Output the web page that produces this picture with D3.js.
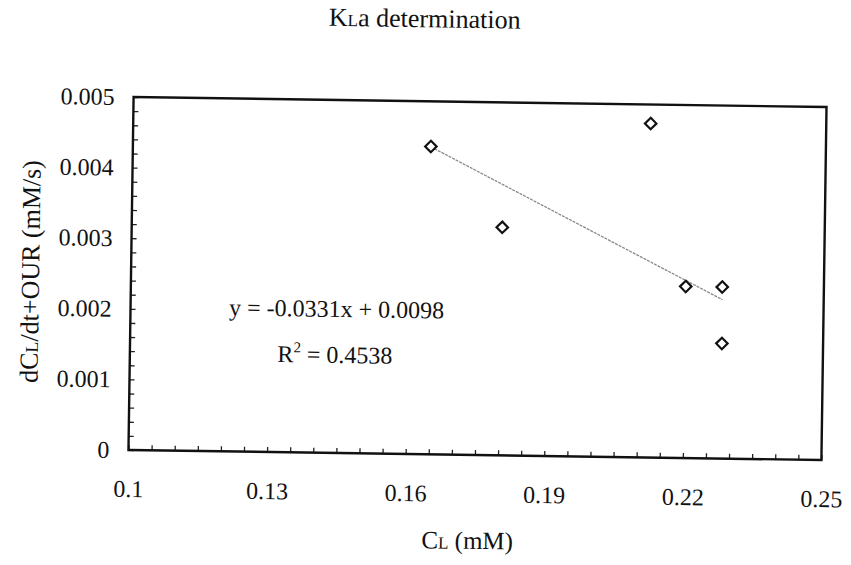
<!DOCTYPE html>
<html lang="en">
<head>
  <meta charset="UTF-8">
  <title>KLa determination</title>
  <script src="https://cdn.jsdelivr.net/npm/d3@7/dist/d3.min.js"></script>
  <style>
    body { margin: 0; background: #fff; }
    svg text { font-family: 'Liberation Serif', 'Times New Roman', Times, 'DejaVu Serif', serif !important; fill: #111; }
  </style>
</head>
<body>
  <svg class="svg"></svg>
  <script>
    // measured points
    const cl = [0.1645, 0.1802, 0.2120, 0.2201, 0.2280, 0.2281];
    const rate = [0.00436, 0.00323, 0.00473, 0.00243, 0.00243, 0.00163];

    const xTicks = [0.1, 0.13, 0.16, 0.19, 0.22, 0.25];
    const yTicks = [0, 0.001, 0.002, 0.003, 0.004, 0.005];

    // trendline as printed on the chart
    const slope = -0.0331;
    const intercept = 0.0098;
    const rSquared = "0.4538";

    const w = 851;
    const h = 565;
    const plotL = 131, plotR = 824, plotT = 102, plotB = 455;

    const xScale = d3.scaleLinear().domain([0.1, 0.25]).range([plotL, plotR]);
    const yScale = d3.scaleLinear().domain([0, 0.005]).range([plotB, plotT]);

    const svg = d3.select('.svg')
      .attr('width', w)
      .attr('height', h);

    // the scanned original sits slightly tilted
    const g = svg.append('g')
      .attr('transform', 'rotate(0.83,477,278)');

    // inner minor ticks
    const xMinor = d3.range(0.1, 0.2501, 0.005);
    const yMinor = d3.range(0, 0.00501, 0.0002);

    g.append('g')
      .attr('transform', 'translate(0,' + plotB + ')')
      .call(d3.axisBottom(xScale).tickValues(xMinor).tickSize(-5).tickSizeOuter(0).tickFormat(''))
      .call(a => a.select('.domain').remove())
      .selectAll('line').attr('stroke', '#222').attr('stroke-width', 1.3);

    g.append('g')
      .attr('transform', 'translate(' + plotL + ',0)')
      .call(d3.axisLeft(yScale).tickValues(yMinor).tickSize(-5).tickSizeOuter(0).tickFormat(''))
      .call(a => a.select('.domain').remove())
      .selectAll('line').attr('stroke', '#222').attr('stroke-width', 1.3);

    // tick labels
    const xLab = g.append('g')
      .attr('transform', 'translate(0,' + plotB + ')')
      .call(d3.axisBottom(xScale).tickValues(xTicks).tickSize(0).tickPadding(30).tickFormat(d => String(d)));
    xLab.select('.domain').remove();
    xLab.attr('font-family', null);
    xLab.selectAll('text').attr('font-size', 24).attr('fill', '#111');

    const yLab = g.append('g')
      .attr('transform', 'translate(' + plotL + ',0)')
      .call(d3.axisLeft(yScale).tickValues(yTicks).tickSize(0).tickPadding(19).tickFormat(d => String(d)));
    yLab.select('.domain').remove();
    yLab.attr('font-family', null);
    yLab.selectAll('text').attr('font-size', 24).attr('fill', '#111');

    // plot frame
    g.append('rect')
      .attr('x', plotL)
      .attr('y', plotT)
      .attr('width', plotR - plotL)
      .attr('height', plotB - plotT)
      .attr('fill', 'none')
      .attr('stroke', '#111')
      .attr('stroke-width', 2.4);

    // trendline
    const xMin = d3.min(cl), xMax = d3.max(cl);
    g.append('line')
      .attr('x1', xScale(xMin))
      .attr('y1', yScale(slope * xMin + intercept))
      .attr('x2', xScale(xMax))
      .attr('y2', yScale(slope * xMax + intercept))
      .attr('stroke', '#8a8a8a')
      .attr('stroke-width', 1.3)
      .attr('stroke-dasharray', '3,1');

    // diamonds
    const diamond = d3.symbol().type(d3.symbolSquare).size(66);
    g.selectAll('.pt')
      .data(cl.map((d, i) => [d, rate[i]]))
      .enter()
      .append('path')
      .attr('class', 'pt')
      .attr('d', diamond)
      .attr('transform', d => 'translate(' + xScale(d[0]) + ',' + yScale(d[1]) + ') rotate(45)')
      .attr('fill', '#fff')
      .attr('stroke', '#111')
      .attr('stroke-width', 2.2);

    // equation
    g.append('text')
      .attr('x', 337)
      .attr('y', 319)
      .attr('text-anchor', 'middle')
      .attr('font-size', 24)
      .text('y = -0.0331x + 0.0098');

    const r2 = g.append('text')
      .attr('x', 336)
      .attr('y', 365)
      .attr('text-anchor', 'middle')
      .attr('font-size', 24);
    r2.append('tspan').text('R');
    r2.append('tspan').attr('font-size', 15).attr('dy', -10).text('2');
    r2.append('tspan').attr('dy', 10).text(' = ' + rSquared);

    // title
    const title = g.append('text')
      .attr('x', 421)
      .attr('y', 28)
      .attr('text-anchor', 'middle')
      .attr('font-size', 26);
    title.append('tspan').text('K');
    title.append('tspan').attr('font-size', 17).text('L');
    title.append('tspan').text('a determination');

    // x axis title
    const xt = g.append('text')
      .attr('x', 471)
      .attr('y', 549)
      .attr('text-anchor', 'middle')
      .attr('font-size', 25);
    xt.append('tspan').text('C');
    xt.append('tspan').attr('font-size', 17).text('L');
    xt.append('tspan').text(' (mM)');

    // y axis title
    const yt = g.append('text')
      .attr('transform', 'translate(39,278) rotate(-90)')
      .attr('text-anchor', 'middle')
      .attr('font-size', 26);
    yt.append('tspan').text('dC');
    yt.append('tspan').attr('font-size', 18).text('L');
    yt.append('tspan').text('/dt+OUR (mM/s)');
  </script>
</body>
</html>
